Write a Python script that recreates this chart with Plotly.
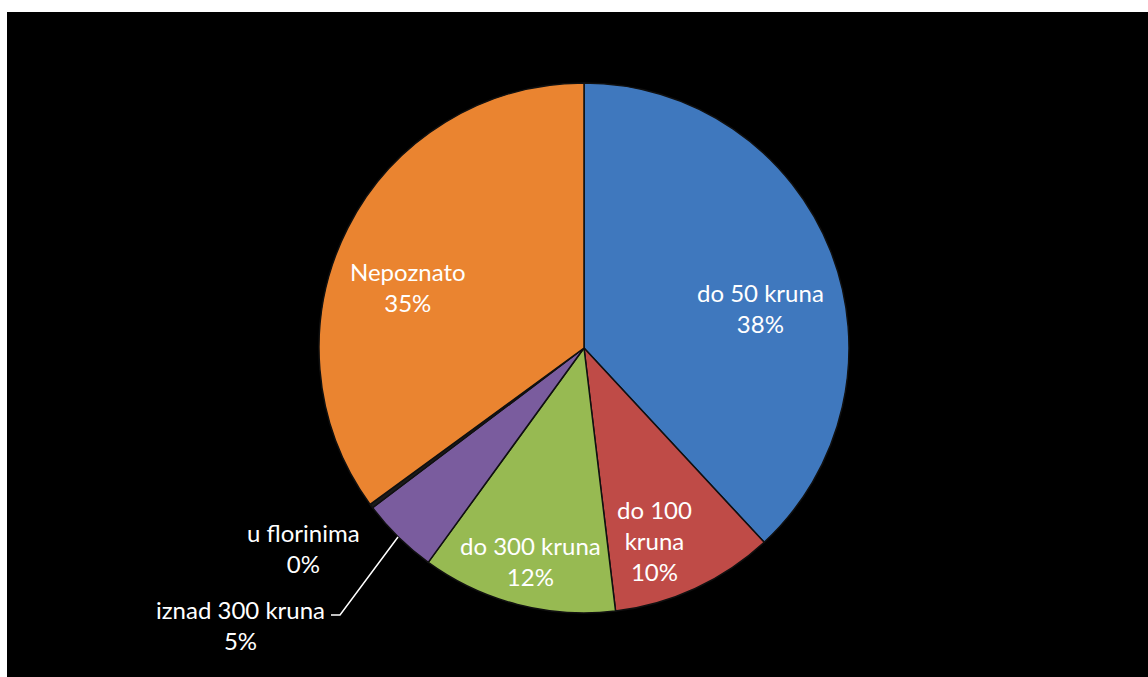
import plotly.graph_objects as go

W, H = 1148, 677

categories = ["do 50 kruna", "do 100 kruna", "do 300 kruna", "iznad 300 kruna", "u florinima", "Nepoznato"]
values = [38.1, 10.0, 11.9, 4.7, 0.25, 35.05]
label_text = ["do 50 kruna<br>38%", "do 100<br>kruna<br>10%", "do 300 kruna<br>12%",
              "iznad 300 kruna<br>5%", "u florinima<br>0%", "Nepoznato<br>35%"]
colors = ["#3f78be", "#bf4b47", "#97ba52", "#7a5c9e", "#1a1a1a", "#ea8430"]

# label positions in screen pixels (x, y) from top-left
label_px = [(760, 308), (654, 540), (530, 561), (240, 625), (303, 548), (408, 287)]

def px(x, y):
    return x / W, 1 - y / H

cx, cy, R = 584, 348, 265
fig = go.Figure()
x0, y1 = px(cx - R, cy - R)
x1, y0 = px(cx + R, cy + R)
fig.add_trace(go.Pie(
    labels=categories, values=values, sort=False, direction="clockwise", rotation=0,
    marker=dict(colors=colors, line=dict(color="#101010", width=1.5)),
    textinfo="none", hoverinfo="label+percent", showlegend=False,
    domain=dict(x=[x0, x1], y=[y0, y1]),
))

for (x, y), t in zip(label_px, label_text):
    ax, ay = px(x, y)
    fig.add_annotation(x=ax, y=ay, xref="paper", yref="paper", text=t, showarrow=False,
                       font=dict(family="Lato, Open Sans, sans-serif", size=24, color="white"),
                       align="center", xanchor="center", yanchor="middle")

# leader line for iznad 300 kruna
p1 = px(398, 537); p2 = px(340, 615); p3 = px(331, 615)
fig.add_shape(type="path", xref="paper", yref="paper",
              path=f"M {p1[0]},{p1[1]} L {p2[0]},{p2[1]} L {p3[0]},{p3[1]}",
              line=dict(color="white", width=1.5))

# white strips on top and left
fig.add_shape(type="rect", xref="paper", yref="paper", x0=0, x1=1, y0=1 - 12 / H, y1=1,
              fillcolor="white", line=dict(width=0), layer="above")
fig.add_shape(type="rect", xref="paper", yref="paper", x0=0, x1=7 / W, y0=0, y1=1,
              fillcolor="white", line=dict(width=0), layer="above")

fig.update_layout(width=W, height=H, paper_bgcolor="black", plot_bgcolor="black",
                  margin=dict(l=0, r=0, t=0, b=0))
fig.write_html("out.html", config={"displayModeBar": False},
               post_script="document.body.style.margin='0';document.body.style.overflow='hidden';")
